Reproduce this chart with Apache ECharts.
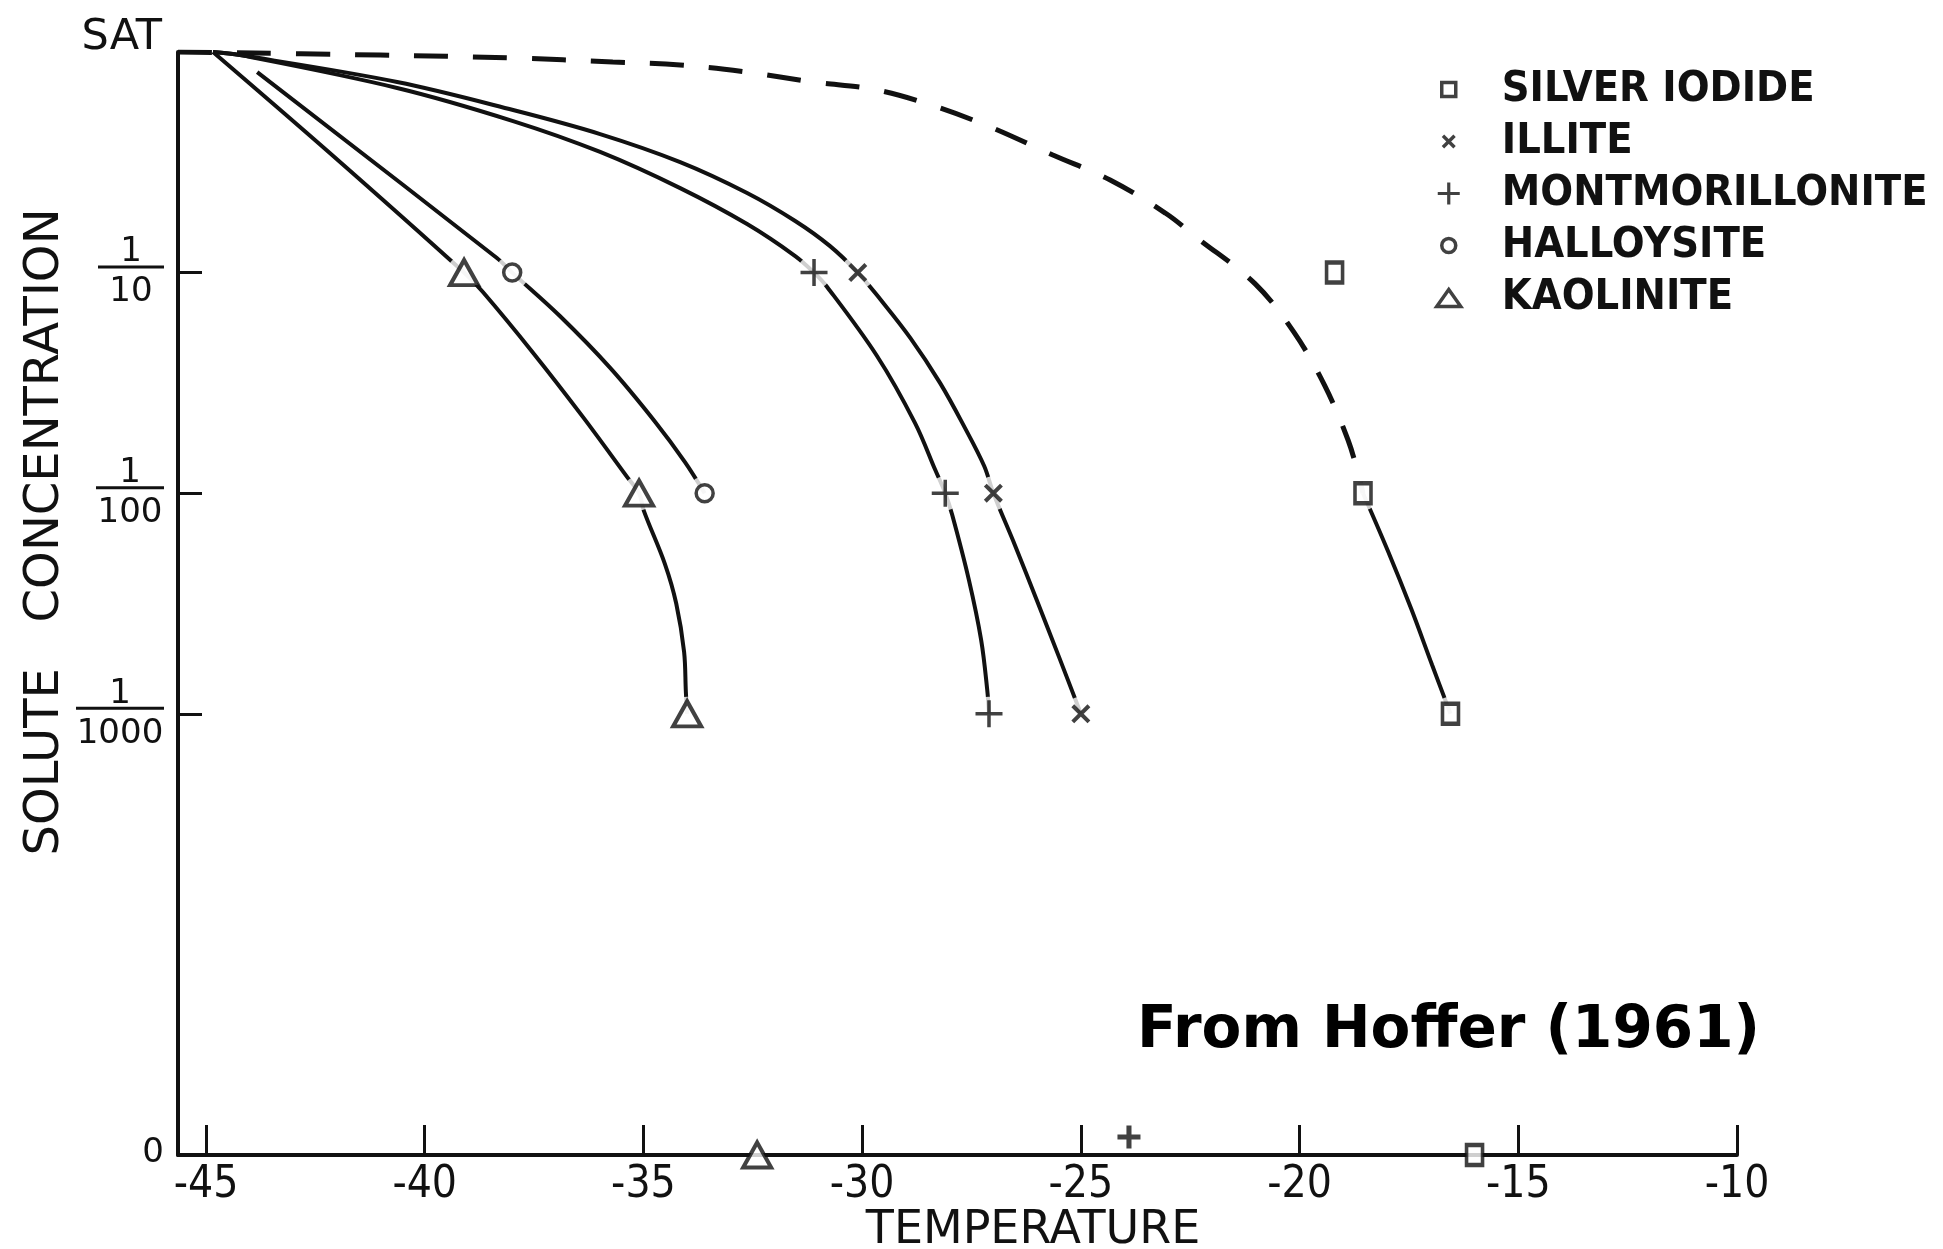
<!DOCTYPE html>
<html>
<head>
<meta charset="utf-8">
<script src="https://cdn.jsdelivr.net/npm/echarts@6/dist/echarts.min.js"></script>
<style>
  html, body { margin: 0; padding: 0; background: #fff; }
  #chart { width: 1943px; height: 1249px; }
</style>
</head>
<body>
<div id="chart"></div>
<script>
// Temperature axis (deg C); the vertical axis sits a little left of -45
const tempMin = -45.64;
const tempMax = -10;
const tempTicks = [-45, -40, -35, -30, -25, -20, -15, -10];

// Solute concentration on a log10 scale: 0 = saturated, -1 = 1/10 ... ; the base line is zero solute
const concMin = -5;
const concMax = 0;
const concLevels = [0, -1, -2, -3, -5];
const concLabels = ['SAT', '1/10', '1/100', '1/1000', '0'];
const concTicks = [0, -1, -2, -3];

const materials = ['SILVER IODIDE', 'ILLITE', 'MONTMORILLONITE', 'HALLOYSITE', 'KAOLINITE'];

// Freezing thresholds: [temperature, log10 concentration]
const silverIodidePts = [[-19.2, -1], [-18.55, -2], [-16.55, -3], [-16.0, -5]];
const illitePts = [[-30.1, -1], [-27.0, -2], [-25.0, -3]];
const montmorillonitePts = [[-31.1, -1], [-28.1, -2], [-27.1, -3], [-23.9, -5]];
const halloysitePts = [[-38.0, -1], [-33.6, -2]];
const kaolinitePts = [[-39.1, -1], [-35.1, -2], [-34.0, -3], [-32.4, -5]];

// Hand-drawn curves between the thresholds
const silverIodideDashed = [
  [-45.64, 0], [-41.02, -0.014], [-37.98, -0.027], [-35.7, -0.045], [-34.16, -0.059],
  [-32.63, -0.091], [-31.12, -0.136], [-29.66, -0.172], [-28.29, -0.249], [-27.01, -0.345],
  [-25.64, -0.467], [-24.33, -0.58], [-23.07, -0.73], [-22.34, -0.843], [-21.02, -1.05],
  [-20.13, -1.27], [-19.43, -1.51], [-18.89, -1.76], [-18.65, -1.92]
];
const silverIodideSolid = [[-17.98, -2.262], [-17.45, -2.523], [-16.97, -2.779]];
const illiteTrace = [
  [-44.84, 0], [-44.22, -0.014], [-40.63, -0.136], [-37.98, -0.263], [-35.99, -0.372],
  [-34.16, -0.499], [-32.63, -0.639], [-31.53, -0.766], [-30.74, -0.879],
  [-29.59, -1.12], [-28.9, -1.296], [-28.22, -1.5], [-27.65, -1.704], [-27.21, -1.877],
  [-26.5, -2.239], [-26.0, -2.489], [-25.5, -2.742]
];
const montmorilloniteTrace = [
  [-44.84, 0], [-44.22, -0.014], [-40.63, -0.163], [-37.98, -0.313], [-35.99, -0.453],
  [-34.16, -0.617], [-32.63, -0.78], [-31.53, -0.925],
  [-30.8, -1.065], [-29.66, -1.378], [-28.79, -1.682], [-28.33, -1.894],
  [-27.94, -2.099], [-27.56, -2.393], [-27.28, -2.665], [-27.14, -2.892]
];
const halloysiteTrace = [
  [-43.83, -0.091], [-38.35, -0.934], [-36.91, -1.197], [-35.76, -1.432],
  [-34.73, -1.677], [-34.05, -1.859]
];
const kaoliniteTrace = [
  [-44.84, 0], [-42.17, -0.458], [-38.67, -1.088], [-37.52, -1.364], [-36.38, -1.655],
  [-35.37, -1.927], [-34.99, -2.08], [-34.51, -2.32], [-34.25, -2.50], [-34.07, -2.72], [-34.03, -2.90]
];

// Merge a traced curve with the thresholds it passes through, ordered from top to bottom
function joinCurve(trace, pts) {
  return trace.concat(pts).sort((a, b) => b[1] - a[1]);
}
const onLevel = (pts, levels) => pts.filter(p => levels.indexOf(p[1]) >= 0);

const INK = '#111';
const plusPath = 'path://M-1.3,-10 L1.3,-10 L1.3,-1.3 L10,-1.3 L10,1.3 L1.3,1.3 L1.3,10 L-1.3,10 L-1.3,1.3 L-10,1.3 L-10,-1.3 L-1.3,-1.3 Z';
const plusHeavyPath = 'path://M-2.2,-10 L2.2,-10 L2.2,-2.2 L10,-2.2 L10,2.2 L2.2,2.2 L2.2,10 L-2.2,10 L-2.2,2.2 L-10,2.2 L-10,-2.2 L-2.2,-2.2 Z';
const crossPath = 'path://M-10,-7 L-7,-10 L10,7 L7,10 Z M7,-10 L10,-7 L-7,10 L-10,7 Z';

const legendIcons = {
  'SILVER IODIDE': 'path://M-12,-12 M12,12 M-7,-7 L7,-7 L7,7 L-7,7 Z',
  'ILLITE': 'path://M-12,-12 M12,12 M-7,-4.6 L-4.6,-7 L7,4.6 L4.6,7 Z M4.6,-7 L7,-4.6 L-4.6,7 L-7,4.6 Z',
  'MONTMORILLONITE': 'path://M-12,-12 M12,12 M-1.6,-11 L1.6,-11 L1.6,-1.6 L11,-1.6 L11,1.6 L1.6,1.6 L1.6,11 L-1.6,11 L-1.6,1.6 L-11,1.6 L-11,-1.6 L-1.6,-1.6 Z',
  'HALLOYSITE': 'path://M-12,-12 M12,12 M7,0 A7,7 0 1,1 -7,0 A7,7 0 1,1 7,0 Z',
  'KAOLINITE': 'path://M-12,-12 M12,12 M0,-8 L12,9 L-12,9 Z'
};
const hollowStyle = { color: '#fff', borderColor: INK, borderWidth: 3.5 };
const solidStyle = { color: INK, borderWidth: 0 };
const legendHollow = { 'SILVER IODIDE': true, 'HALLOYSITE': true, 'KAOLINITE': true };

function curveSeries(data, dashed) {
  return {
    type: 'line', data: data, smooth: 0.35, showSymbol: false, silent: true, z: 2,
    lineStyle: dashed
      ? { color: INK, width: 5, type: [34, 25], cap: 'butt' }
      : { color: INK, width: 4 }
  };
}

// White discs behind the markers leave the small gaps where curves meet a point
const onCurvePts = [].concat(
  onLevel(silverIodidePts, [-2, -3]), illitePts, onLevel(montmorillonitePts, [-1, -2, -3]),
  halloysitePts, onLevel(kaolinitePts, [-1, -2, -3])
);

function markerSeries(name, pts, symbol, size, style) {
  return {
    type: 'scatter', name: name, z: 5, clip: false, silent: true,
    symbol: symbol, symbolSize: size, itemStyle: style,
    data: pts.map(p => p[1] === concMin && symbol === plusPath
      ? { value: p, symbol: plusHeavyPath, symbolSize: 23, symbolOffset: [0, -18] }
      : { value: p })
  };
}

const fracRich = {};
[2, 3, 4].forEach(n => {
  const w = n === 4 ? 88 : (n === 3 ? 68 : 66);
  const base = { fontFamily: 'DejaVu Sans', fontSize: 34, color: INK, width: w, align: 'center' };
  fracRich['n' + n] = Object.assign({ lineHeight: 34, padding: [11, 0, 0, 0] }, base);
  fracRich['d' + n] = Object.assign({ lineHeight: 45 }, base);
  fracRich['b' + n] = { width: w, height: 3, lineHeight: 6, fontSize: 1, backgroundColor: INK, align: 'center' };
});
fracRich.sat = { fontFamily: 'DejaVu Sans', fontSize: 43, color: INK, padding: [0, 2, 28, 0] };
fracRich.z = { fontFamily: 'DejaVu Sans', fontSize: 34, color: INK, padding: [0, 0, 4, 0] };

const chart = echarts.init(document.getElementById('chart'), null, { renderer: 'canvas' });
chart.setOption({
  animation: false,
  backgroundColor: '#fff',
  grid: { left: 178, right: 206, top: 52, bottom: 94 },
  xAxis: {
    type: 'value', min: tempMin, max: tempMax,
    splitLine: { show: false },
    axisLine: { onZero: false, lineStyle: { color: INK, width: 4 } },
    axisTick: { inside: true, length: 30, customValues: tempTicks, lineStyle: { color: INK, width: 3 } },
    axisLabel: {
      customValues: tempTicks, margin: 9, color: INK,
      fontFamily: 'DejaVu Sans Condensed, DejaVu Sans', fontSize: 44,
      formatter: v => String(v)
    }
  },
  yAxis: {
    type: 'value', min: concMin, max: concMax,
    splitLine: { show: false },
    axisLine: { onZero: false, lineStyle: { color: INK, width: 4 } },
    axisTick: { inside: true, length: 24, customValues: concTicks, lineStyle: { color: INK, width: 3 } },
    axisLabel: {
      customValues: concLevels, margin: 14, color: INK,
      formatter: v => {
        const t = concLabels[concLevels.indexOf(v)];
        if (t === 'SAT') return '{sat|SAT}';
        if (t.indexOf('/') > 0) {
          const parts = t.split('/');
          const n = parts[1].length;
          return '{n' + n + '|' + parts[0] + '}\n{b' + n + '| }\n{d' + n + '|' + parts[1] + '}';
        }
        return '{z|' + t + '}';
      },
      rich: fracRich
    }
  },
  legend: {
    orient: 'vertical', left: 1435, top: 68, padding: 0,
    itemWidth: 24, itemHeight: 24, itemGap: 9,
    selectedMode: false,
    textStyle: {
      fontFamily: 'DejaVu Sans Condensed, DejaVu Sans', fontWeight: 'bold', fontSize: 43,
      color: INK, padding: [0, 0, 0, 36]
    },
    data: materials.map(m => ({
      name: m, icon: legendIcons[m],
      itemStyle: legendHollow[m] ? hollowStyle : solidStyle
    }))
  },
  graphic: [
    { type: 'text', x: 1033, y: 1231, silent: true,
      style: { text: 'TEMPERATURE', font: '46px "DejaVu Sans"', fill: INK, align: 'center', verticalAlign: 'middle' } },
    { type: 'text', x: 46, y: 532, rotation: Math.PI / 2, silent: true,
      style: { text: 'SOLUTE   CONCENTRATION', font: '48px "DejaVu Sans"', fill: INK, align: 'center', verticalAlign: 'middle' } },
    { type: 'text', x: 1760, y: 1032, silent: true,
      style: { text: 'From Hoffer (1961)', font: 'bold 58px "DejaVu Sans"', fill: '#000', align: 'right', verticalAlign: 'middle' } }
  ],
  series: [
    curveSeries(joinCurve(silverIodideDashed, onLevel(silverIodidePts, [-2])), true),
    curveSeries(joinCurve(silverIodideSolid, onLevel(silverIodidePts, [-2, -3])), false),
    curveSeries(joinCurve(illiteTrace, illitePts), false),
    curveSeries(joinCurve(montmorilloniteTrace, onLevel(montmorillonitePts, [-1, -2, -3])), false),
    curveSeries(joinCurve(halloysiteTrace, halloysitePts), false),
    curveSeries(joinCurve(kaoliniteTrace, onLevel(kaolinitePts, [-1, -2, -3])), false),
    {
      type: 'scatter', z: 4, silent: true, clip: false, symbol: 'circle', symbolSize: 34,
      itemStyle: { color: '#fff' }, data: onCurvePts
    },
    markerSeries('SILVER IODIDE', silverIodidePts, 'rect', [16, 20], { color: '#fff', borderColor: INK, borderWidth: 4 }),
    markerSeries('ILLITE', illitePts, crossPath, 19, { color: INK }),
    markerSeries('MONTMORILLONITE', montmorillonitePts, plusPath, 27, { color: INK }),
    markerSeries('HALLOYSITE', halloysitePts, 'circle', 17, { color: '#fff', borderColor: INK, borderWidth: 3.5 }),
    markerSeries('KAOLINITE', kaolinitePts, 'triangle', [28, 25], { color: '#fff', borderColor: INK, borderWidth: 4 })
  ]
});
</script>
</body>
</html>
